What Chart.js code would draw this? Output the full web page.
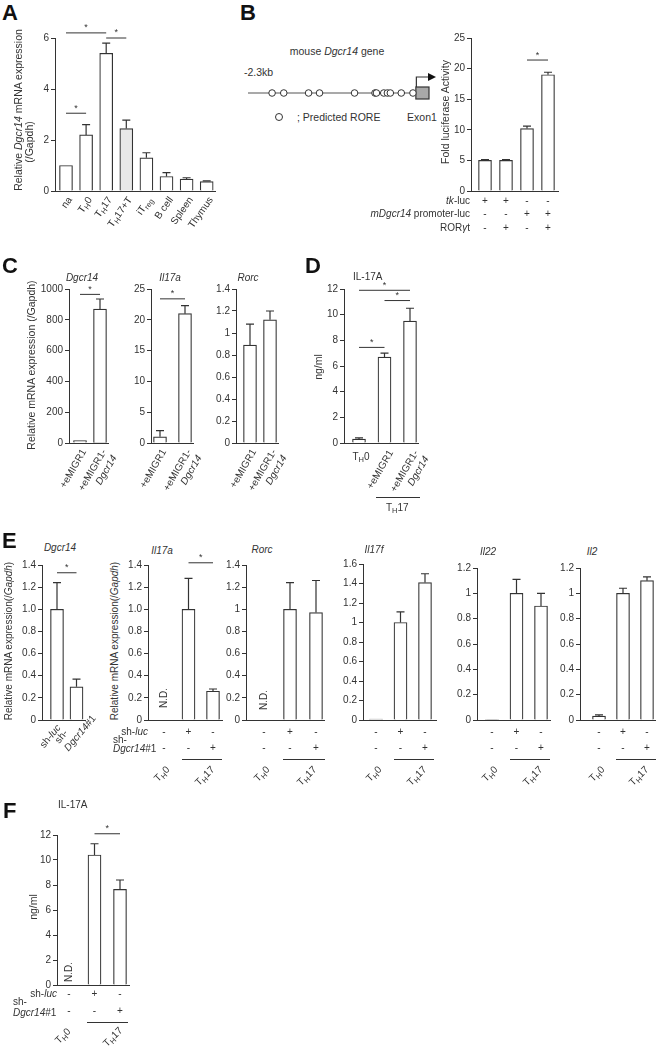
<!DOCTYPE html>
<html>
<head>
<meta charset="utf-8">
<script src="https://cdn.jsdelivr.net/npm/chart.js@4.4.1/dist/chart.umd.min.js"></script>
<style>
body{margin:0;background:#fff}
#fig{position:relative;width:660px;height:1054px;font-family:"Liberation Sans",Arial,sans-serif;color:#333;font-size:10px;overflow:hidden}
#fig canvas{position:absolute}
.t{position:absolute;white-space:nowrap;line-height:12px}
.let{position:absolute;font-weight:bold;font-size:22px;line-height:22px;color:#111}
.hl{position:absolute;height:0;border-top:1px solid #333}
sub{font-size:0.75em;vertical-align:-0.3em;line-height:0}
</style>
</head>
<body>
<div id="fig"></div>
<script>
// ---- data ----
// A
const aCats = ['na', 'T<sub>H</sub>0', 'T<sub>H</sub>17', 'T<sub>H</sub>17+T', 'iT<sub>reg</sub>', 'B cell', 'Spleen', 'Thymus'];
const aVals = [1.0, 2.2, 5.4, 2.45, 1.3, 0.57, 0.47, 0.37];
const aErr = [null, 2.6, 5.8, 2.78, 1.5, 0.72, 0.52, 0.40];
const aFill = ['#fff', '#fff', '#fff', '#e8e8e8', '#fff', '#fff', '#fff', '#fff'];
const aSig = [[0, 1, 3.05], [0, 2, 6.2], [2, 3, 6.0]];
// B
const roreKb = [-1.97, -1.81, -1.47, -1.32, -0.84, -0.56, -0.54, -0.44, -0.39, -0.35, -0.20, -0.04];
const bVals = [5.0, 5.0, 10.2, 19.0];
const bErr = [5.15, 5.15, 10.6, 19.4];
const bSig = [[2, 3, 21.4]];
const bRowNames = ['<i>tk</i>-luc', '<i>mDgcr14</i> promoter-luc', 'ROR<i>γ</i>t'];
const bRows = [['+', '+', '-', '-'], ['-', '-', '+', '+'], ['-', '+', '-', '+']];
// C
const cCats = ['+eMIGR1', '+eMIGR1-<br><i>Dgcr14</i>'];
const cDgcr14 = [15, 870], cDgcr14Err = [null, 935];
const cIl17a = [1.0, 21.0], cIl17aErr = [2.0, 22.3];
const cRorc = [0.89, 1.12], cRorcErr = [1.08, 1.2];
// D
const dCats = ['T<sub>H</sub>0', '+eMIGR1', '+eMIGR1-<br><i>Dgcr14</i>'];
const dVals = [0.3, 6.7, 9.5], dErr = [0.4, 7.0, 10.5];
const dSig = [[0, 1, 7.45], [1, 2, 11.1], [0, 2, 11.9]];
// E
const eShLuc = ['-', '+', '-'];
const eShDgcr = ['-', '-', '+'];
const eDgcr14 = [1.0, 0.3], eDgcr14Err = [1.24, 0.37];
const eIl17a = [null, 1.0, 0.26], eIl17aErr = [null, 1.28, 0.28];
const eRorc = [null, 1.0, 0.97], eRorcErr = [null, 1.24, 1.26];
const eIl17f = [0.01, 1.0, 1.41], eIl17fErr = [null, 1.11, 1.5];
const eIl22 = [0.005, 1.0, 0.9], eIl22Err = [null, 1.11, 1.0];
const eIl2 = [0.03, 1.0, 1.1], eIl2Err = [0.04, 1.04, 1.13];
// F
const fVals = [null, 10.4, 7.65], fErr = [null, 11.3, 8.4];
const fSig = [[1, 2, 12.1]];

const INK = '#333';
const FONT = '"Liberation Sans", Arial, sans-serif';
Chart.defaults.font.family = FONT;

const fig = document.getElementById('fig');

function txt(html, x, y, o = {}) {
  const d = document.createElement('div');
  d.className = 't';
  d.innerHTML = html;
  d.style.left = x + 'px';
  d.style.top = y + 'px';
  if (o.size) d.style.fontSize = o.size + 'px';
  if (o.ta) d.style.textAlign = o.ta;
  const ax = o.align === 'right' ? '-100%' : o.align === 'left' ? '0' : '-50%';
  const vy = o.vy || '-50%';
  d.style.transformOrigin = '0 0';
  d.style.transform = (o.rot ? `rotate(${-o.rot}deg) ` : '') + `translate(${ax},${vy})`;
  fig.appendChild(d);
  return d;
}
function letter(ch, x, y) {
  const d = document.createElement('div');
  d.className = 'let';
  d.textContent = ch;
  d.style.left = x + 'px';
  d.style.top = y + 'px';
  fig.appendChild(d);
}
function hline(x1, x2, y) {
  const d = document.createElement('div');
  d.className = 'hl';
  d.style.left = x1 + 'px';
  d.style.top = y + 'px';
  d.style.width = (x2 - x1) + 'px';
  fig.appendChild(d);
}

// error bars, significance bars, N.D. marks
const marks = {
  id: 'marks',
  afterDatasetsDraw(chart) {
    const ds = chart.data.datasets[0];
    if (!ds.errs && !ds.sig && !ds.nd) return;
    const { ctx, scales: { x, y } } = chart;
    ctx.save();
    ctx.strokeStyle = INK;
    ctx.fillStyle = INK;
    ctx.lineWidth = 1.2;
    (ds.errs || []).forEach((e, i) => {
      const v = ds.data[i].y;
      if (e == null || v == null) return;
      const px = x.getPixelForValue(i);
      const top = y.getPixelForValue(e);
      ctx.beginPath();
      ctx.moveTo(px, y.getPixelForValue(v));
      ctx.lineTo(px, top);
      ctx.moveTo(px - 4, top);
      ctx.lineTo(px + 4, top);
      ctx.stroke();
    });
    ctx.lineWidth = 1;
    ctx.font = '9px ' + FONT;
    ctx.textAlign = 'center';
    ctx.textBaseline = 'bottom';
    (ds.sig || []).forEach(([a, b, v]) => {
      const x1 = x.getPixelForValue(a), x2 = x.getPixelForValue(b), py = y.getPixelForValue(v);
      ctx.beginPath();
      ctx.moveTo(x1, py);
      ctx.lineTo(x2, py);
      ctx.stroke();
      ctx.fillText('*', (x1 + x2) / 2, py - 0.5);
    });
    ctx.font = '10px ' + FONT;
    ctx.textAlign = 'left';
    ctx.textBaseline = 'middle';
    (ds.nd || []).forEach(i => {
      ctx.save();
      ctx.translate(x.getPixelForValue(i), y.getPixelForValue(0) - (ds.ndGap || 4));
      ctx.rotate(-Math.PI / 2);
      ctx.fillText('N.D.', 0, 0);
      ctx.restore();
    });
    ctx.restore();
  }
};
Chart.register(marks);

const fmtPlain = v => String(v);
const fmtOne = v => (v === 0 ? '0' : Math.abs(v - 1) < 1e-9 ? '1' : v.toFixed(1));
const fmtDec = v => (v === 0 ? '0' : v.toFixed(1));

function bars(o) {
  const left = o.axisX - 34, top = o.yTop - (o.headroom || 12);
  const right = o.xEnd + 4, bottom = o.yBot + 8;
  const cv = document.createElement('canvas');
  cv.width = right - left;
  cv.height = bottom - top;
  cv.style.left = left + 'px';
  cv.style.top = top + 'px';
  fig.appendChild(cv);
  const x0 = -(o.c0 - o.axisX) / o.step;
  const x1 = x0 + (o.xEnd - o.axisX) / o.step;
  const chart = new Chart(cv, {
    type: 'bar',
    data: {
      datasets: [{
        data: o.vals.map((v, i) => ({ x: i, y: v })),
        backgroundColor: o.fills || '#fff',
        borderColor: INK,
        borderWidth: 1.2,
        barThickness: 13,
        errs: o.errs, sig: o.sig, nd: o.nd, ndGap: o.ndGap
      }]
    },
    options: {
      responsive: false,
      animation: false,
      events: [],
      layout: { padding: { top: o.yTop - top, bottom: bottom - o.yBot, right: right - o.xEnd, left: 0 } },
      plugins: { legend: { display: false }, tooltip: { enabled: false } },
      scales: {
        x: {
          type: 'linear', min: x0, max: x1, offset: false,
          ticks: { display: false }, grid: { display: false },
          border: { color: INK, width: 1 },
          afterFit: s => { s.height = 0; }
        },
        y: {
          min: o.min, max: o.max,
          ticks: { stepSize: o.tick, callback: v => o.fmt(v), color: INK, font: { size: 10 }, padding: 2 },
          grid: { drawOnChartArea: false, tickLength: 4, color: INK },
          border: { color: INK, width: 1 },
          afterFit: s => { s.width = o.axisX - left; }
        }
      }
    }
  });
  return chart;
}
const bx = (ch, i) => parseFloat(ch.canvas.style.left) + ch.scales.x.getPixelForValue(i);

// ---------- A ----------
letter('A', 2, 2);
const A = bars({ axisX: 55, c0: 66, step: 20.1, xEnd: 215, yTop: 38, yBot: 191, min: 0, max: 6, tick: 2, fmt: fmtPlain,
  vals: aVals, errs: aErr, fills: aFill, sig: aSig, headroom: 16 });
aCats.forEach((c, i) => txt(c, bx(A, i) + 4, 198, { rot: 55, align: 'right' }));
txt('Relative <i>Dgcr14</i> mRNA expression', 18, 110, { rot: 90, size: 10.5 });
txt('(/Gapdh)', 29, 142, { rot: 90, size: 10.5 });

// ---------- B ----------
letter('B', 240, 2);
txt('mouse <i>Dgcr14</i> gene', 337, 51, { size: 10.5 });
txt('-2.3kb', 244, 72, { align: 'left', size: 10.5 });
txt('; Predicted RORE', 297, 117, { align: 'left', size: 10.5 });
txt('Exon1', 422, 117, { size: 10.5 });
const leg = document.createElement('div');
leg.style.cssText = 'position:absolute;left:275px;top:113px;width:6px;height:6px;border:1px solid #333;border-radius:50%;background:#fff';
fig.appendChild(leg);

const gene = {
  id: 'gene',
  beforeDatasetsDraw(chart) {
    const { ctx, scales: { x, y } } = chart;
    const y0 = y.getPixelForValue(0), xs = x.getPixelForValue(-2.3), xe = x.getPixelForValue(0), xb = x.getPixelForValue(0.18);
    ctx.save();
    ctx.strokeStyle = '#555';
    ctx.lineWidth = 1.2;
    ctx.beginPath();
    ctx.moveTo(xs, y0);
    ctx.lineTo(xe, y0);
    ctx.stroke();
    ctx.fillStyle = '#a8a8a8';
    ctx.strokeStyle = INK;
    ctx.fillRect(xe, y0 - 6, xb - xe, 12);
    ctx.strokeRect(xe, y0 - 6, xb - xe, 12);
    ctx.beginPath();
    ctx.moveTo(xe + 0.5, y0 - 6);
    ctx.lineTo(xe + 0.5, y0 - 16);
    ctx.lineTo(xb, y0 - 16);
    ctx.stroke();
    ctx.fillStyle = '#111';
    ctx.beginPath();
    ctx.moveTo(xb - 1, y0 - 20);
    ctx.lineTo(xb + 7, y0 - 16);
    ctx.lineTo(xb - 1, y0 - 12);
    ctx.closePath();
    ctx.fill();
    ctx.restore();
  }
};
const gcv = document.createElement('canvas');
gcv.width = 200; gcv.height = 46;
gcv.style.left = '243px'; gcv.style.top = '70px';
fig.appendChild(gcv);
new Chart(gcv, {
  type: 'scatter',
  data: { datasets: [{ data: roreKb.map(k => ({ x: k, y: 0 })), pointRadius: 3.3, pointBackgroundColor: '#fff',
    pointBorderColor: INK, pointBorderWidth: 1, clip: false }] },
  options: {
    responsive: false, animation: false, events: [],
    layout: { padding: { left: 0, right: 14, top: 0, bottom: 0 } },
    plugins: { legend: { display: false }, tooltip: { enabled: false } },
    scales: { x: { type: 'linear', min: -2.3, max: 0.18, display: false }, y: { min: -1, max: 1, display: false } }
  },
  plugins: [gene]
});

const B = bars({ axisX: 471, c0: 485, step: 21, xEnd: 558, yTop: 38, yBot: 191, min: 0, max: 25, tick: 5, fmt: fmtPlain,
  vals: bVals, errs: bErr, sig: bSig });
txt('Fold luciferase Activity', 445, 112, { rot: 90, size: 10.5 });
bRowNames.forEach((n, r) => {
  const yy = [201, 214, 228][r];
  txt(n, 470, yy, { align: 'right' });
  bRows[r].forEach((s, i) => txt(s, bx(B, i), yy));
});

// ---------- C ----------
letter('C', 2, 255);
txt('Relative mRNA expression (/Gapdh)', 31, 365, { rot: 90, size: 10.5 });
const C1 = bars({ axisX: 69, c0: 80, step: 20, xEnd: 108, yTop: 289, yBot: 443, min: 0, max: 1000, tick: 200, fmt: fmtPlain,
  vals: cDgcr14, errs: cDgcr14Err, sig: [[0, 1, 965]] });
const C2 = bars({ axisX: 151, c0: 160, step: 25, xEnd: 193, yTop: 289, yBot: 443, min: 0, max: 25, tick: 5, fmt: fmtPlain,
  vals: cIl17a, errs: cIl17aErr, sig: [[0, 1, 23.4]] });
const C3 = bars({ axisX: 236, c0: 250, step: 20, xEnd: 278, yTop: 289, yBot: 443, min: 0, max: 1.4, tick: 0.2, fmt: fmtOne,
  vals: cRorc, errs: cRorcErr });
txt('<i>Dgcr14</i>', 82, 278);
txt('<i>Il17a</i>', 170, 278);
txt('<i>Rorc</i>', 248, 278);
[C1, C2, C3].forEach(ch => {
  cCats.forEach((c, i) => txt(c, bx(ch, i) + 4, 450, { rot: 60, align: 'right', ta: 'right', vy: '-6px' }));
});

// ---------- D ----------
letter('D', 305, 255);
txt('IL-17A', 353, 277, { align: 'left' });
txt('ng/ml', 318, 367, { rot: 90, size: 10.5 });
const D = bars({ axisX: 344, c0: 359, step: 25.5, xEnd: 418, yTop: 289, yBot: 443, min: 0, max: 12, tick: 2, fmt: fmtPlain,
  vals: dVals, errs: dErr, sig: dSig });
txt(dCats[0], bx(D, 0) + 2, 457);
txt(dCats[1], bx(D, 1) + 6, 451, { rot: 60, align: 'right', ta: 'right', vy: '-6px' });
txt(dCats[2], bx(D, 2) + 6, 451, { rot: 60, align: 'right', ta: 'right', vy: '-6px' });
hline(bx(D, 1) - 9, bx(D, 2) + 10, 497);
txt('T<sub>H</sub>17', (bx(D, 1) + bx(D, 2)) / 2, 508);

// ---------- E ----------
letter('E', 2, 530);
const eTitles = [['<i>Dgcr14</i>', 60, 548], ['<i>Il17a</i>', 162, 551], ['<i>Rorc</i>', 262, 550],
  ['<i>Il17f</i>', 374, 550], ['<i>Il22</i>', 488, 552], ['<i>Il2</i>', 592, 552]];
eTitles.forEach(([t, x, y]) => txt(t, x, y));
txt('Relative mRNA expression(/<i>Gapdh</i>)', 9, 641, { rot: 90 });
txt('Relative mRNA expression(/<i>Gapdh</i>)', 115, 641, { rot: 90 });
const E1 = bars({ axisX: 42, c0: 57, step: 19.5, xEnd: 85, yTop: 565, yBot: 720, min: 0, max: 1.4, tick: 0.2, fmt: fmtDec,
  vals: eDgcr14, errs: eDgcr14Err, sig: [[0, 1, 1.33]] });
txt('sh-<i>luc</i>', bx(E1, 0) + 2, 726, { rot: 50, align: 'right' });
txt('sh-<br><i>Dgcr14</i>#1', bx(E1, 1) - 20, 742, { rot: 50, align: 'left', vy: '-6px' });
const E2 = bars({ axisX: 148, c0: 164, step: 24.5, xEnd: 222, yTop: 565, yBot: 720, min: 0, max: 1.4, tick: 0.2, fmt: fmtDec,
  vals: eIl17a, errs: eIl17aErr, sig: [[1, 2, 1.42]], nd: [0], ndGap: 12 });
const E3 = bars({ axisX: 246, c0: 264, step: 26, xEnd: 324, yTop: 565, yBot: 720, min: 0, max: 1.4, tick: 0.2, fmt: fmtOne,
  vals: eRorc, errs: eRorcErr, nd: [0], ndGap: 10 });
const E4 = bars({ axisX: 363, c0: 376, step: 24.5, xEnd: 436, yTop: 564, yBot: 720, min: 0, max: 1.6, tick: 0.2, fmt: fmtOne,
  vals: eIl17f, errs: eIl17fErr });
const E5 = bars({ axisX: 477, c0: 492, step: 24.5, xEnd: 550, yTop: 568, yBot: 720, min: 0, max: 1.2, tick: 0.2, fmt: fmtOne,
  vals: eIl22, errs: eIl22Err });
const E6 = bars({ axisX: 580, c0: 599, step: 24, xEnd: 655, yTop: 568, yBot: 720, min: 0, max: 1.2, tick: 0.2, fmt: fmtOne,
  vals: eIl2, errs: eIl2Err });
txt('sh-<i>luc</i>', 148, 732, { align: 'right' });
txt('sh-', 113, 740, { align: 'left' });
txt('<i>Dgcr14</i>#1', 113, 749, { align: 'left' });
[E2, E3, E4, E5, E6].forEach(ch => {
  eShLuc.forEach((s, i) => txt(s, bx(ch, i), 732));
  eShDgcr.forEach((s, i) => txt(s, bx(ch, i), 748));
  hline(bx(ch, 1) - 7, bx(ch, 2) + 9, 759);
  txt('T<sub>H</sub>0', bx(ch, 0) + 4, 768, { rot: 45, align: 'right' });
  txt('T<sub>H</sub>17', (bx(ch, 1) + bx(ch, 2)) / 2 + 12, 768, { rot: 45, align: 'right' });
});

// ---------- F ----------
letter('F', 3, 800);
txt('IL-17A', 58, 805, { align: 'left' });
txt('ng/ml', 33, 907, { rot: 90, size: 10.5 });
const F = bars({ axisX: 57, c0: 69, step: 25.5, xEnd: 129, yTop: 835, yBot: 985, min: 0, max: 12, tick: 2, fmt: fmtPlain,
  vals: fVals, errs: fErr, sig: fSig, nd: [0], ndGap: 3 });
txt('sh-<i>luc</i>', 57, 994, { align: 'right' });
txt('sh-', 13, 1002, { align: 'left' });
txt('<i>Dgcr14</i>#1', 13, 1013, { align: 'left' });
eShLuc.forEach((s, i) => txt(s, bx(F, i), 994));
eShDgcr.forEach((s, i) => txt(s, bx(F, i), 1011));
hline(bx(F, 1) - 8, bx(F, 2) + 8, 1022);
txt('T<sub>H</sub>0', bx(F, 0) + 0, 1030, { rot: 45, align: 'right' });
txt('T<sub>H</sub>17', (bx(F, 1) + bx(F, 2)) / 2 + 14, 1029, { rot: 45, align: 'right' });
</script>
</body>
</html>
